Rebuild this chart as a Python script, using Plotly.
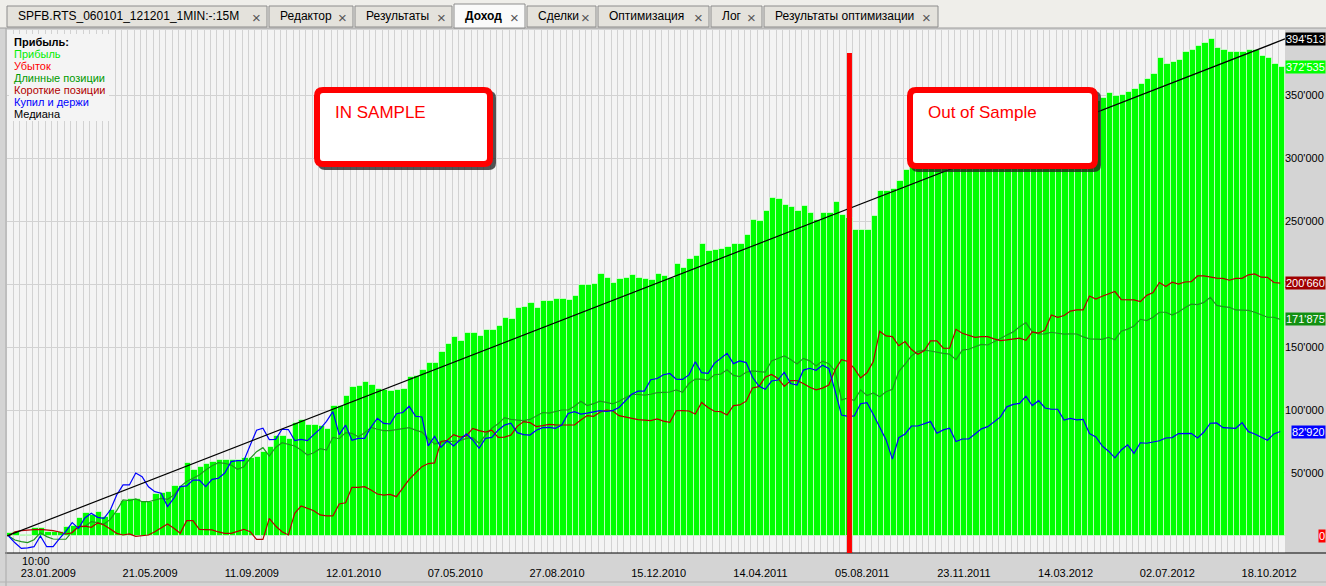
import plotly.graph_objects as go

# ---------------- data (values in thousands) ----------------
PROFIT = [
    2, 3, 1, 1, 6, 6, 3, 3, 3, 7, 8, 14, 18, 17, 19, 15, 21, 18, 28, 29,
    29, 27, 27, 33, 34, 35, 40, 40, 58, 52, 55, 57, 59, 60, 60, 60, 60, 62, 62, 63,
    67, 71, 79, 79, 77, 90, 92, 88, 88, 87, 85, 103, 103, 111, 118, 119, 122, 120, 117, 116,
    115, 116, 117, 126, 127, 132, 137, 137, 146, 152, 158, 155, 161, 161, 159, 163.5, 163.5, 167, 173, 172,
    181, 182, 185, 181, 186.5, 186.5, 188, 188, 187, 190.5, 199, 199, 200, 208, 204.5, 200.5, 204, 204.5, 207, 204.5,
    204, 203, 208, 206, 205, 216, 213, 220, 222, 231.5, 226, 227, 228, 229, 232, 232, 239, 251, 250, 258,
    268.5, 267.5, 263, 261, 258, 262, 256, 251, 256, 256, 265, 255, 252, 243, 243, 243, 254, 274, 274, 275.5,
    282, 290.5, 293, 295, 297, 296, 299, 302, 304, 303, 306, 309, 311, 310, 313, 315, 317, 316, 319, 321,
    323, 322, 325, 327, 330, 329, 332, 335, 337, 339, 342, 345, 347.4, 351.4, 349.3, 350, 352, 354.5, 358.7, 362.5,
    367, 379, 375, 376, 377.7, 384, 385.7, 388.8, 391, 394.2, 387, 386, 384, 384, 384, 385.7, 385.7, 381.3, 379, 374.3,
    372.535,
]

BUY_HOLD = [
    0, -5.4, -9.8, -9.5, -8.5, 0, -8.5, -8.5, -2.1, 3.7, 10.6, 6, 14.3, 18, 14.8, 14, 20.6, 32.5, 40.5, 40.5,
    50, 47, 39, 35.2, 34, 23.3, 30, 39.2, 39.7, 44.4, 44.4, 39.2, 45, 45.8, 50, 59, 59.8, 59.8, 72, 84,
    85.5, 76.5, 76.7, 84.7, 84.5, 75.7, 76.7, 75.7, 80.5, 85, 91, 98.7, 80.5, 88, 76, 77.5, 77.5, 86.5, 93.4, 89.4,
    88.9, 97, 98, 103, 95, 94.5, 71.5, 79, 70.4, 75.6, 71.4, 76, 81, 76.2, 69.6, 77.5, 78.3, 84, 88, 89.5,
    82, 80.5, 80.1, 84, 86, 86.2, 85.4, 88, 97.3, 98.7, 96.8, 97.5, 98.5, 99.5, 98.8, 99.5, 102, 107, 112.5, 115,
    115, 124, 125, 128, 129, 124.5, 124.3, 127.8, 138.3, 129.6, 129, 137, 141, 145, 136.8, 139, 137.6, 126, 119, 116.4,
    123, 123.8, 130, 121, 119.8, 131.7, 133.1, 131.5, 135.5, 133, 115, 96, 95, 95.3, 105, 105.9, 96.5, 86.8, 76.5, 61,
    78, 81, 87.3, 87.3, 88.9, 90.8, 81.5, 84.2, 85.5, 75, 77, 77, 81, 85, 86.8, 90.8, 94.5, 102.5, 104.5, 105.2,
    111, 103.5, 107.4, 101.6, 100.6, 100.6, 92, 93.4, 92.2, 92.6, 81.3, 78.6, 71.5, 67.3, 62, 68.3, 72.3, 65.6, 74, 73.6,
    74.4, 75.6, 77.8, 78.1, 81.3, 81.5, 81.5, 77.8, 82.5, 89.5, 89.7, 86, 85.5, 85.5, 90, 82.8, 81, 78.3, 76, 81,
    82.92,
]

LONG_POS = [
    0, -3.2, -4.5, -5.3, -3, 2.6, -0.5, -2.4, -2.6, -2.6, 3.4, 7.4, 7.4, 11.4, 10.6, 9.5, 13.2, 20.1, 28.6, 28,
    29.4, 27.2, 27.2, 28.6, 29.9, 29.1, 32.5, 39.2, 43.2, 45.8, 48.4, 52.4, 55.8, 58.2, 57.7, 56.3, 52.9, 55, 61.6, 66.9,
    70.1, 63.4, 70.3, 74, 73, 71.4, 68.2, 64.3, 66.1, 69.3, 68.2, 78.3, 77.2, 82, 81.5, 78.8, 82, 86.2, 84.7, 83.6,
    83.6, 84.5, 85, 86, 84, 82.5, 77.5, 73, 74.5, 75, 75.6, 75.6, 77.5, 78, 73.5, 80, 85.5, 89, 93.9, 92.5,
    92, 91.6, 92.5, 95.5, 98, 97.5, 98.5, 100, 100, 103, 107, 103.5, 105, 107, 106, 104.8, 107, 110, 112.5, 112.3,
    111.8, 112.5, 113.8, 114, 114.3, 116, 114, 121, 124.5, 124.5, 123.5, 128, 128.5, 132, 127.5, 126.5, 130, 131, 130.5, 130,
    139, 141, 143, 140, 136.5, 141, 139, 135, 138.8, 136.7, 131, 108, 109.5, 107.5, 116, 111.5, 113.5, 110.5, 114.5, 116.5,
    130.5, 136.5, 143, 146.5, 147.5, 146.8, 146.2, 145, 144.3, 140, 147.5, 148.2, 150.2, 152, 151.6, 154.5, 156.8, 159.5, 162, 166,
    169.4, 162, 160.3, 160.4, 161.7, 160.9, 160.2, 160.4, 160.3, 158, 156.4, 156.3, 156, 157.7, 155.8, 162.5, 164.2, 166.6, 172, 171,
    173.6, 177.6, 177.6, 175.4, 177.8, 181.2, 184, 183.6, 185.4, 189.5, 183, 182, 181.5, 179.4, 179.2, 179, 177.6, 175.8, 173.6, 173.6,
    171.875,
]

SHORT_POS = [
    0, 3.4, 4.2, 4.8, 5, 5.3, 5, 4.2, 3.2, 1.6, 2.6, 7.4, 7.9, 6.9, 10.3, 8.7, 5.5, 2.1, 0.8, 1.6,
    -0.3, 0, 0.8, 3.4, 6.6, 9.5, 6.1, 2.1, 12.2, 12.2, 5.3, 4.8, 4.8, 3.2, 2.1, 2.1, 3.7, 5.3, 3.4, -2.7,
    -2.7, 14, 7.9, 3.4, 0.8, 18, 23.8, 22, 20.1, 16.7, 15.9, 15.9, 25.4, 26.4, 38.6, 38.6, 39.1, 36.5, 33.3, 32.5,
    33, 31.2, 38, 45, 50, 55, 57.5, 58, 75, 76, 80.5, 78.5, 79.5, 85.4, 83.6, 82.5, 84, 78.3, 78.5, 80,
    87, 90.8, 90, 86.8, 87.6, 88.6, 88.2, 88.1, 88.1, 88.1, 92, 95.6, 94.9, 98.2, 100, 99.4, 95.5, 94.4, 93, 92.4,
    92, 91.6, 93, 91.2, 90.2, 99.4, 99.5, 99.2, 96.8, 106, 102, 99, 98.7, 96, 103.5, 104, 107, 117.5, 118.5, 126,
    128.2, 125.1, 118.7, 123.3, 123.3, 121, 118, 116, 117.4, 119.8, 132, 140, 138.5, 133, 125.5, 129.5, 138.5, 162.5, 158.8, 158.2,
    151, 154.3, 148, 144.2, 147, 154.8, 154.8, 149, 149, 164, 160.9, 159.1, 157.7, 158.2, 158.2, 156.4, 155.1, 155.6, 156.4, 157,
    155.3, 162, 161, 163.5, 175.4, 173.6, 175, 178.5, 179.4, 179.4, 190.5, 188.1, 190.3, 192.4, 194, 187.6, 187.4, 187.4, 186, 191,
    193.2, 201.2, 198, 201.4, 199.9, 201.6, 201.9, 206.4, 206.4, 205.2, 204.6, 204.5, 203, 204.4, 204.5, 207.3, 208, 205.4, 205.3, 201.2,
    200.66,
]

MEDIAN_START = 0.0
MEDIAN_END = 394.513
LOSS_END = 0.0
SPLIT_BAR = 132

DATE_LABELS = ["23.01.2009", "21.05.2009", "11.09.2009", "12.01.2010", "07.05.2010",
               "27.08.2010", "15.12.2010", "14.04.2011", "05.08.2011", "23.11.2011",
               "14.03.2012", "02.07.2012", "18.10.2012"]
FIRST_LABEL_BAR = 6
LABEL_EVERY = 16
FIRST_TIME = "10:00"
Y_TICKS = [50, 100, 150, 200, 250, 300, 350]

LEGEND_TITLE = "Прибыль:"
LEGEND_ITEMS = [("Прибыль", "#00ee00"), ("Убыток", "#ff0000"),
                ("Длинные позиции", "#009900"), ("Короткие позиции", "#b00000"),
                ("Купил и держи", "#0000ff"), ("Медиана", "#000000")]
TAB_NAMES = ["SPFB.RTS_060101_121201_1MIN:-:15M", "Редактор", "Результаты", "Доход",
             "Сделки", "Оптимизация", "Лог", "Результаты оптимизации"]
ACTIVE_TAB = "Доход"

N = len(PROFIT)
assert N == len(BUY_HOLD) == len(LONG_POS) == len(SHORT_POS) == 201

# ---------------- geometry ----------------
W, H = 1326, 586
PL, PR, PT, PB = 7, 1285, 30, 553
Y_MIN, Y_MAX = -13.5, 401.6
X_MIN, X_MAX = -0.5, N - 0.5
LINE_SHIFT = -0.25

def PX(x):
    return (x - PL) / (PR - PL)

def PY(y):
    return (PB - y) / (PB - PT)

def fmt(v):
    return f"{round(v * 1000):,}".replace(",", "'")

FONT = "Liberation Sans"

fig = go.Figure()
bars_x = list(range(N))
line_x = [i + LINE_SHIFT for i in range(N)]

fig.add_trace(go.Bar(x=bars_x, y=PROFIT, name="Прибыль", marker_color="#00ff00",
                     marker_line=dict(color="rgba(255,255,255,0.55)", width=1),
                     showlegend=False, hoverinfo="skip"))
fig.add_trace(go.Scatter(x=line_x, y=LONG_POS, mode="lines", name="Длинные позиции",
                         line=dict(color="#1e961e", width=1.2), showlegend=False))
fig.add_trace(go.Scatter(x=line_x, y=SHORT_POS, mode="lines", name="Короткие позиции",
                         line=dict(color="#b40000", width=1.2), showlegend=False))
fig.add_trace(go.Scatter(x=line_x, y=BUY_HOLD, mode="lines", name="Купил и держи",
                         line=dict(color="#0000ff", width=1.2), showlegend=False))
fig.add_trace(go.Scatter(x=[X_MIN, X_MAX], y=[MEDIAN_START, MEDIAN_END], mode="lines",
                         name="Медиана", xaxis="x2",
                         line=dict(color="#000000", width=1.2), showlegend=False))

tickvals = [FIRST_LABEL_BAR + LABEL_EVERY * k for k in range(len(DATE_LABELS))]

shapes = []
annotations = []

# tab strip
shapes.append(dict(type="rect", xref="paper", yref="paper", x0=PX(0), x1=PX(W), y0=PY(28), y1=PY(0),
                   fillcolor="#efeeea", line=dict(width=0), layer="below"))
shapes.append(dict(type="line", xref="paper", yref="paper", x0=PX(0), x1=PX(W), y0=PY(28), y1=PY(28),
                   line=dict(color="#9c9c9c", width=1)))
TAB_EDGES = [7, 269, 355, 454, 527, 598, 711, 764, 940]
for k, name in enumerate(TAB_NAMES):
    x0, x1 = TAB_EDGES[k], TAB_EDGES[k + 1] - 2
    active = name == ACTIVE_TAB
    shapes.append(dict(type="rect", xref="paper", yref="paper", x0=PX(x0), x1=PX(x1),
                       y0=PY(28 if active else 27), y1=PY(4 if active else 6),
                       fillcolor="#fafafa" if active else "#e4e2dc",
                       line=dict(color="#8c8c8c", width=1)))
    annotations.append(dict(xref="paper", yref="paper", x=PX(x0 + 9), y=PY(16), xanchor="left",
                            yanchor="middle", showarrow=False,
                            text=f"<b>{name}</b>" if active else name,
                            font=dict(family=FONT, size=12, color="#000000")))
    annotations.append(dict(xref="paper", yref="paper", x=PX(x1 - 11), y=PY(17), xanchor="center",
                            yanchor="middle", showarrow=False, text="×",
                            font=dict(family=FONT, size=15, color="#555555")))

# frame lines
shapes.append(dict(type="line", xref="paper", yref="paper", x0=PX(5), x1=PX(W), y0=0, y1=0,
                   line=dict(color="#000000", width=1)))
shapes.append(dict(type="line", xref="paper", yref="paper", x0=PX(6), x1=PX(6), y0=PY(H), y1=PY(28),
                   line=dict(color="#a8a8a8", width=1)))
shapes.append(dict(type="line", xref="paper", yref="paper", x0=PX(0), x1=PX(W), y0=PY(582), y1=PY(582),
                   line=dict(color="#b4b4b4", width=1)))

# legend background + text
shapes.append(dict(type="rect", xref="paper", yref="paper", x0=PX(9), x1=PX(109), y0=PY(121), y1=PY(34),
                   fillcolor="#f4f4f4", line=dict(width=0), layer="above"))
annotations.append(dict(xref="paper", yref="paper", x=PX(12), y=PY(42), xanchor="left", yanchor="middle",
                        showarrow=False, text=f"<b>{LEGEND_TITLE}</b>",
                        font=dict(family=FONT, size=11, color="#000000")))
for k, (txt, col) in enumerate(LEGEND_ITEMS):
    annotations.append(dict(xref="paper", yref="paper", x=PX(12), y=PY(54 + 12 * k), xanchor="left",
                            yanchor="middle", showarrow=False, text=txt,
                            font=dict(family=FONT, size=11, color=col)))

# split line
shapes.append(dict(type="line", xref="x", yref="paper", x0=SPLIT_BAR, x1=SPLIT_BAR, y0=0, y1=PY(53),
                   line=dict(color="#ff0000", width=5), layer="above"))

# callout boxes
def rrect(x0, y0, x1, y1, r):
    X, Y = PX, PY
    return (f"M {X(x0 + r)},{Y(y0)} L {X(x1 - r)},{Y(y0)} Q {X(x1)},{Y(y0)} {X(x1)},{Y(y0 + r)} "
            f"L {X(x1)},{Y(y1 - r)} Q {X(x1)},{Y(y1)} {X(x1 - r)},{Y(y1)} "
            f"L {X(x0 + r)},{Y(y1)} Q {X(x0)},{Y(y1)} {X(x0)},{Y(y1 - r)} "
            f"L {X(x0)},{Y(y0 + r)} Q {X(x0)},{Y(y0)} {X(x0 + r)},{Y(y0)} Z")

CALLOUTS = [("IN SAMPLE", (314, 87, 493, 167)), ("Out of Sample", (907, 87, 1098, 169))]
for text, (x0, y0, x1, y1) in CALLOUTS:
    shapes.append(dict(type="path", xref="paper", yref="paper", path=rrect(x0 + 4, y0 + 4, x1 + 3, y1 + 3, 7),
                       fillcolor="rgba(30,30,30,0.75)", line=dict(width=0), layer="above"))
    shapes.append(dict(type="path", xref="paper", yref="paper", path=rrect(x0 + 3, y0 + 3, x1 - 3, y1 - 3, 6),
                       fillcolor="#ffffff", line=dict(color="#ff0000", width=6), layer="above"))
    annotations.append(dict(xref="paper", yref="paper", x=PX(x0 + 19), y=PY(y0 + 25), xanchor="left",
                            yanchor="middle", showarrow=False, text=text,
                            font=dict(family=FONT, size=17, color="#ff0000")))

# right axis tick labels
RIGHT_EDGE = 1326
for v in Y_TICKS:
    annotations.append(dict(xref="paper", yref="y", x=PX(RIGHT_EDGE), y=v, xanchor="right", yanchor="middle",
                            showarrow=False, text=fmt(v),
                            font=dict(family=FONT, size=11, color="#000000")))

# last-value labels
VALUE_LABELS = [(MEDIAN_END, "#000000"), (PROFIT[-1], "#00ff00"), (SHORT_POS[-1], "#a00000"),
                (LONG_POS[-1], "#129012"), (BUY_HOLD[-1], "#0000ff"), (LOSS_END, "#ff0000")]
for v, col in VALUE_LABELS:
    annotations.append(dict(xref="paper", yref="y", x=PX(RIGHT_EDGE), y=v, xanchor="right", yanchor="middle",
                            showarrow=False, text=fmt(v), bgcolor=col, borderpad=0, height=12,
                            font=dict(family=FONT, size=11, color="#ffffff")))

# first time label
annotations.append(dict(xref="paper", yref="paper", x=PX(20), y=PY(561), xanchor="left", yanchor="middle",
                        showarrow=False, text=FIRST_TIME, font=dict(family=FONT, size=11, color="#000000")))

fig.update_layout(
    width=W, height=H,
    margin=dict(l=PL, r=W - PR, t=PT, b=H - PB, pad=0),
    paper_bgcolor="#d4d4d4", plot_bgcolor="#f4f4f4",
    bargap=0, showlegend=False,
    xaxis=dict(range=[X_MIN, X_MAX], tick0=-0.5, dtick=1, showticklabels=False, showgrid=True,
               gridcolor="#d2d2d2", gridwidth=1, zeroline=False, showline=False, ticks=""),
    xaxis2=dict(range=[X_MIN, X_MAX], overlaying="x", anchor="y", side="bottom", tickmode="array",
                tickvals=tickvals, ticktext=DATE_LABELS, showgrid=False, zeroline=False, showline=False,
                ticks="outside", ticklen=10, tickcolor="rgba(0,0,0,0)",
                tickfont=dict(family=FONT, size=11, color="#000000")),
    yaxis=dict(range=[Y_MIN, Y_MAX], tickmode="array", tickvals=[0] + Y_TICKS, showticklabels=False,
               showgrid=True, gridcolor="#d2d2d2", gridwidth=1, zeroline=False, showline=False, ticks=""),
    shapes=shapes, annotations=annotations,
    font=dict(family=FONT, size=11),
)

fig.write_html("out.html", config={"displayModeBar": False},
               post_script="document.body.style.margin='0px';document.body.style.overflow='hidden';")
